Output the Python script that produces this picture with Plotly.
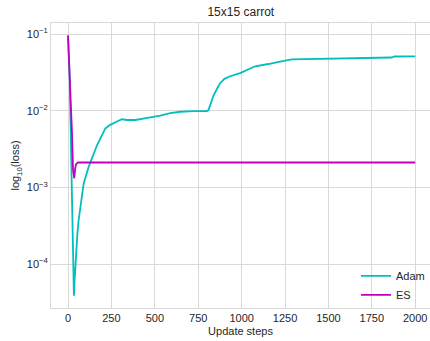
import plotly.graph_objects as go

# ---- data ----
adam_steps = [0, 10, 20, 27, 34, 38, 46, 54, 61, 77, 90, 119, 147, 167, 215, 243, 282, 311,
              339, 387, 441, 500, 531, 589, 646, 723, 800, 809, 819, 838, 857, 876, 901,
              934, 991, 1030, 1078, 1154, 1231, 1250, 1290, 1365, 1500, 1672, 1864, 1880, 2000]
adam_loss = [0.0955, 0.0251, 0.00158, 0.000224, 0.0000389, 0.0000617, 0.000138, 0.000251,
             0.000372, 0.000759, 0.00112, 0.00186, 0.00278, 0.00355, 0.00589, 0.00655,
             0.00724, 0.00776, 0.00759, 0.00759, 0.00794, 0.00832, 0.00865, 0.00933,
             0.00971, 0.00991, 0.00991, 0.0102, 0.0120, 0.0158, 0.0191, 0.0229, 0.0261,
             0.0282, 0.0309, 0.0342, 0.0380, 0.0407, 0.0447, 0.0452, 0.0468, 0.0471,
             0.0479, 0.0490, 0.0495, 0.0510, 0.0513]

es_steps = [0, 10, 17, 23, 29, 36, 41, 46, 57, 500, 1000, 1500, 2000]
es_loss = [0.0955, 0.0316, 0.0126, 0.00501, 0.00170, 0.00132, 0.00174, 0.00200,
           0.00212, 0.00212, 0.00212, 0.00212, 0.00212]

x_ticks = [0, 250, 500, 750, 1000, 1250, 1500, 1750, 2000]
y_tickvals = [1e-4, 1e-3, 1e-2, 1e-1]
y_ticktext = ["10<sup>\u22124</sup>", "10<sup>\u22123</sup>", "10<sup>\u22122</sup>", "10<sup>\u22121</sup>"]

title = "15x15 carrot"
x_title = "Update steps"
y_title = "log<sub>10</sub>(loss)"

FONT = "Liberation Sans, Arial, DejaVu Sans, sans-serif"
TXT = "#262626"
GRID = "#d9d9d9"

fig = go.Figure()
fig.add_trace(go.Scatter(x=adam_steps, y=adam_loss, mode="lines", name="Adam",
                         line=dict(color="#00BFBF", width=1.8)))
fig.add_trace(go.Scatter(x=es_steps, y=es_loss, mode="lines", name="ES",
                         line=dict(color="#BF00BF", width=1.8)))

fig.update_layout(
    template="none",
    width=430, height=341,
    margin=dict(l=51, r=0, t=23, b=33),
    paper_bgcolor="white", plot_bgcolor="white",
    font=dict(family=FONT, size=11, color=TXT),
    title=dict(text=title, x=0.56, xanchor="center", y=0.965, yanchor="middle",
               font=dict(size=12, color=TXT)),
    showlegend=True,
    legend=dict(x=1.0, xanchor="right", y=-0.005, yanchor="bottom",
                bgcolor="rgba(0,0,0,0)", borderwidth=0,
                font=dict(size=11, color=TXT), itemwidth=30,
                tracegroupgap=0),
    xaxis=dict(range=[-98, 2085], tickvals=x_ticks, showgrid=True, gridcolor=GRID,
               gridwidth=1, zeroline=False, showline=True, linecolor=GRID, linewidth=1,
               mirror=True, ticks="", ticklen=0, tickfont=dict(size=11, color=TXT),
               title=dict(text=x_title, font=dict(size=11, color=TXT), standoff=4)),
    yaxis=dict(type="log", range=[-4.57, -0.856], tickvals=y_tickvals, ticktext=y_ticktext,
               showgrid=True, gridcolor=GRID, gridwidth=1, zeroline=False, showline=True,
               linecolor=GRID, linewidth=1, mirror=True, ticks="", ticklen=0,
               tickfont=dict(size=11, color=TXT),
               title=dict(text=y_title, font=dict(size=11, color=TXT), standoff=4)),
)

fig.write_html("out.html", config={"displayModeBar": False},
               post_script="document.body.style.margin='0';document.body.style.overflow='hidden';")
